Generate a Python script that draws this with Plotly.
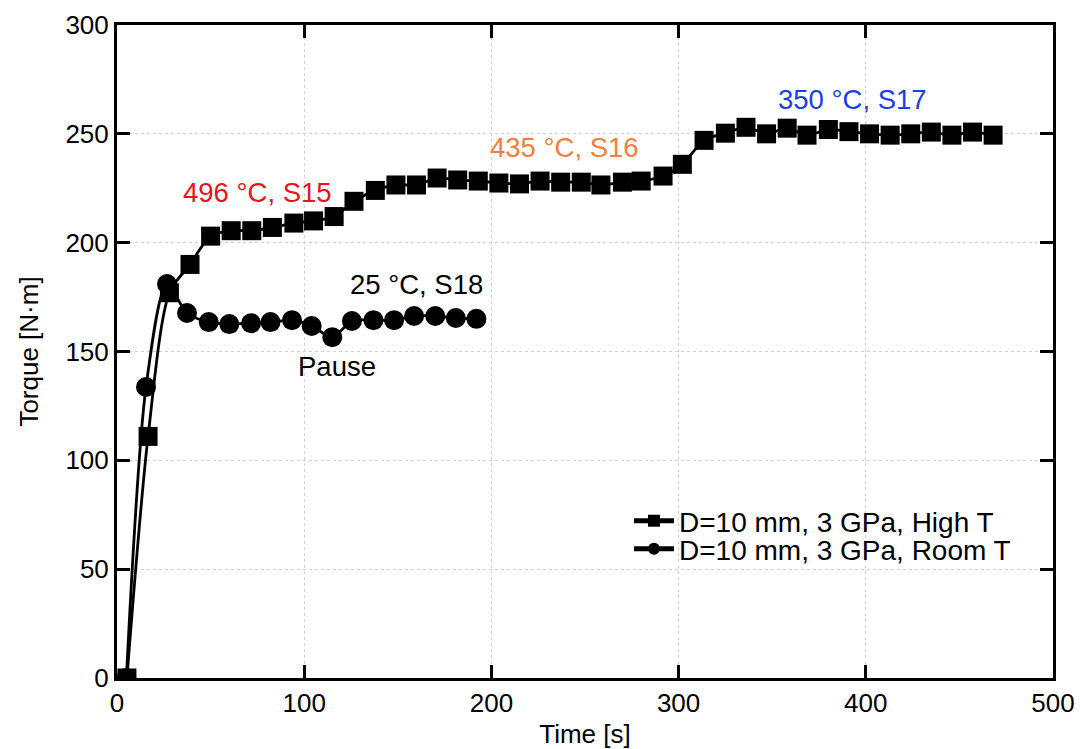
import plotly.graph_objects as go

# High T series (squares)
t_high = [5.3, 16.6, 28, 39, 50, 61, 72, 83, 94.5, 105, 116, 126.6, 138, 149, 160, 171, 182, 193,
          204, 215, 226, 237, 248, 258.5, 270, 280, 291.7, 302, 313.6, 325, 336, 347, 358, 368.6,
          380, 391, 402, 413, 424, 435, 446, 457, 468]
torque_high = [0, 111, 177, 190, 203, 205.5, 205.5, 207, 209, 210, 212, 219, 224, 226.5, 226.5, 229.7,
               228.8, 228.3, 227.4, 227, 228.3, 227.8, 227.8, 226.5, 227.8, 228.3, 230.6, 236, 247,
               250.3, 253, 250, 252.6, 249.4, 252, 251, 250, 249.4, 250, 250.8, 249.4, 250.8, 249.4]

# Room T series (circles)
t_room = [5, 15.5, 26.7, 37.4, 49, 60, 71.6, 82, 93.5, 104, 115, 125.5, 137, 148, 158.7, 170, 181, 192]
torque_room = [0, 133.7, 181, 167.7, 163.5, 162.6, 163, 163.5, 164.4, 161.7, 156.6, 164, 164.4, 164.4,
               166.3, 166.3, 165.4, 165]

x_ticks = [0, 100, 200, 300, 400, 500]
y_ticks = [0, 50, 100, 150, 200, 250, 300]

FONT = "Liberation Sans, Arial, Helvetica, sans-serif"

fig = go.Figure()
fig.add_trace(go.Scatter(
    x=t_high, y=torque_high, mode="lines+markers",
    name="D=10 mm, 3 GPa, High T", legend="legend",
    line=dict(color="black", width=2.8, shape="spline", smoothing=0.8),
    marker=dict(symbol="square", size=19, color="black"),
))
fig.add_trace(go.Scatter(
    x=t_room, y=torque_room, mode="lines+markers",
    name="D=10 mm, 3 GPa, Room T", legend="legend2",
    line=dict(color="black", width=2.8, shape="spline", smoothing=0.8),
    marker=dict(symbol="circle", size=20, color="black"),
))

annotations = [
    dict(x=75, y=223, text="496 °C, S15", color="#e8141c"),
    dict(x=239, y=243.5, text="435 °C, S16", color="#f0803c"),
    dict(x=393, y=266, text="350 °C, S17", color="#1a3fe6"),
    dict(x=160, y=181, text="25 °C, S18", color="black"),
    dict(x=117.5, y=143, text="Pause", color="black"),
]
for a in annotations:
    fig.add_annotation(x=a["x"], y=a["y"], text=a["text"], showarrow=False,
                       font=dict(family=FONT, size=27.5, color=a["color"]))

axis_common = dict(
    showline=True, linewidth=3, linecolor="black", mirror="allticks",
    ticks="inside", ticklen=13, tickwidth=2.5, tickcolor="black",
    showgrid=True, gridcolor="#d0d0d0", griddash="dot", gridwidth=1,
    zeroline=False, automargin=False,
    tickfont=dict(family=FONT, size=26, color="black"),
)

fig.update_xaxes(range=[0, 500], tickvals=x_ticks,
                 title=dict(text="Time [s]", font=dict(family=FONT, size=26, color="black"), standoff=8),
                 **axis_common)
fig.update_yaxes(range=[0, 300], tickvals=y_ticks,
                 title=dict(text="Torque [N·m]", font=dict(family=FONT, size=26, color="black"), standoff=20),
                 **axis_common)

legend_common = dict(xanchor="left", yanchor="middle", bgcolor="rgba(0,0,0,0)",
                     itemsizing="constant", itemwidth=40,
                     font=dict(family=FONT, size=28, color="black"),
                     borderwidth=0)

fig.update_layout(
    width=1080, height=749,
    margin=dict(l=117, r=27, t=25, b=71, autoexpand=False),
    plot_bgcolor="white", paper_bgcolor="white",
    font=dict(family=FONT, size=26, color="black"),
    legend=dict(x=0.547, y=0.2404, **legend_common),
    legend2=dict(x=0.547, y=0.1975, **legend_common),
    showlegend=True,
)

fig.write_html("out.html")
